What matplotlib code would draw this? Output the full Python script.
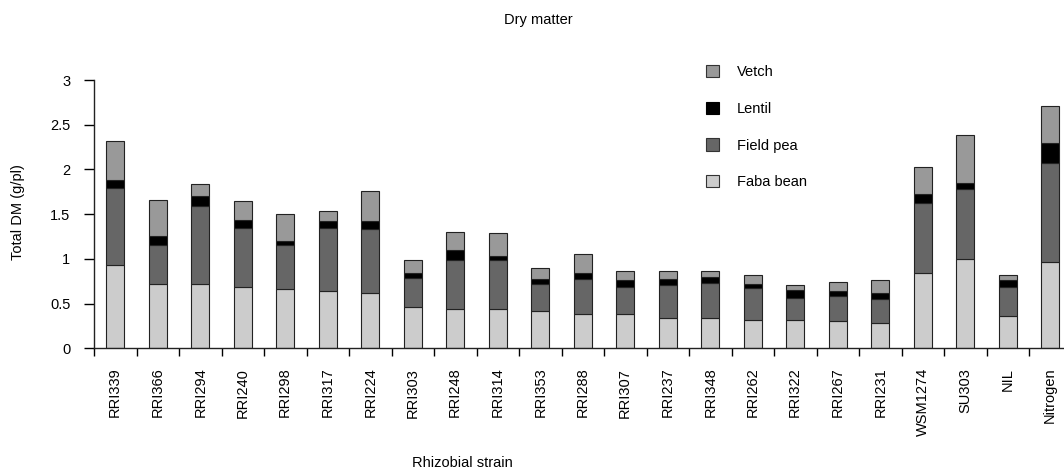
import matplotlib
matplotlib.use("Agg")
import matplotlib.pyplot as plt
from matplotlib.patches import Patch
import numpy as np

plt.rcParams['font.family'] = ['Liberation Sans', 'DejaVu Sans']

strains = ["RRI339", "RRI366", "RRI294", "RRI240", "RRI298", "RRI317", "RRI224",
           "RRI303", "RRI248", "RRI314", "RRI353", "RRI288", "RRI307", "RRI237",
           "RRI348", "RRI262", "RRI322", "RRI267", "RRI231", "WSM1274", "SU303",
           "NIL", "Nitrogen"]

# dry matter per host (g/plant), stacked in this order
faba_bean = [0.93, 0.72, 0.72, 0.69, 0.66, 0.64, 0.62, 0.46, 0.44, 0.44, 0.42, 0.38,
             0.38, 0.34, 0.34, 0.32, 0.32, 0.30, 0.28, 0.84, 1.00, 0.36, 0.96]
field_pea = [0.86, 0.43, 0.87, 0.65, 0.49, 0.71, 0.71, 0.33, 0.55, 0.55, 0.30, 0.39,
             0.31, 0.37, 0.39, 0.35, 0.24, 0.29, 0.27, 0.79, 0.78, 0.33, 1.11]
lentil = [0.09, 0.11, 0.11, 0.10, 0.05, 0.07, 0.09, 0.05, 0.11, 0.04, 0.06, 0.07,
          0.07, 0.07, 0.07, 0.05, 0.09, 0.05, 0.07, 0.09, 0.07, 0.07, 0.23]
vetch = [0.44, 0.40, 0.14, 0.21, 0.30, 0.12, 0.34, 0.15, 0.20, 0.26, 0.12, 0.21,
         0.10, 0.08, 0.06, 0.10, 0.06, 0.10, 0.14, 0.31, 0.54, 0.06, 0.41]

series = [("Faba bean", faba_bean, "#cccccc"),
          ("Field pea", field_pea, "#666666"),
          ("Lentil", lentil, "#000000"),
          ("Vetch", vetch, "#999999")]

fig = plt.figure(figsize=(10.64, 4.70), dpi=100)
ax = fig.add_axes([94 / 1064, 121.7 / 470, 977.5 / 1064, 268.3 / 470])

x = np.arange(len(strains))
bottom = np.zeros(len(strains))
for name, vals, col in series:
    ax.bar(x, vals, width=0.42, bottom=bottom, color=col,
           edgecolor="#222222", linewidth=0.8)
    bottom += np.array(vals)

ax.set_xlim(-0.5, len(strains) - 0.5)
ax.set_ylim(0, 3)
ax.set_yticks([0, 0.5, 1, 1.5, 2, 2.5, 3])
ax.set_yticklabels(["0", "0.5", "1", "1.5", "2", "2.5", "3"])

# tick marks between categories, labels under each bar
ax.set_xticks(np.arange(len(strains) + 1) - 0.5)
ax.set_xticklabels([])
ax.set_xticks(x, minor=True)
ax.set_xticklabels(strains, minor=True, rotation=90, fontsize=10.5)
ax.tick_params(axis="x", which="minor", length=0, pad=14)
ax.tick_params(axis="x", which="major", length=6, width=1, direction="out")
ax.tick_params(axis="y", length=7, width=1, pad=10, labelsize=10.5)

for side in ("top", "right"):
    ax.spines[side].set_visible(False)
for side in ("left", "bottom"):
    ax.spines[side].set_linewidth(1)
    ax.spines[side].set_color("#222222")

fig.text(538 / 1064, 1 - 20 / 470, "Dry matter", ha="center", va="center", fontsize=10.5)
fig.text(462 / 1064, 1 - 463 / 470, "Rhizobial strain", ha="center", va="center", fontsize=10.5)
fig.text(18 / 1064, 1 - 212 / 470, "Total DM (g/pl)", ha="center", va="center",
         rotation=90, fontsize=10.5)

handles = [Patch(facecolor=col, edgecolor="#333333" if name != "Lentil" else col,
                 linewidth=0.8, label=name)
           for name, vals, col in reversed(series)]
fig.legend(handles=handles, loc="upper left", bbox_to_anchor=(693 / 1064, 1 - 52 / 470),
           frameon=False, fontsize=10.5, handlelength=0.9, handleheight=0.9,
           handletextpad=1.2, labelspacing=1.55)

fig.savefig("out.png", dpi=100)
